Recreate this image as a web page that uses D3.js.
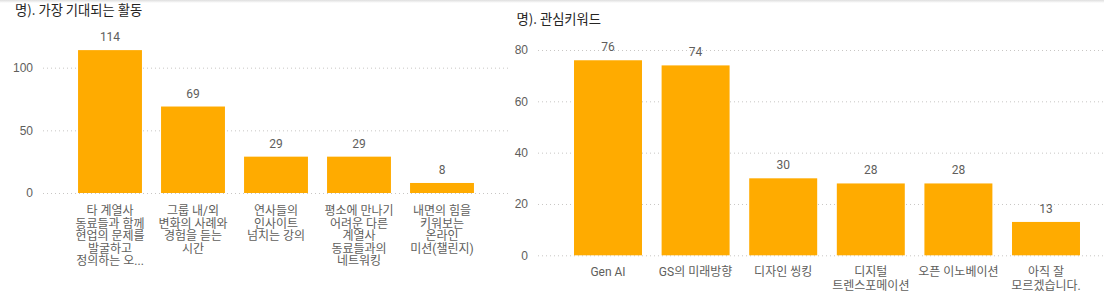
<!DOCTYPE html>
<html>
<head>
<meta charset="utf-8">
<script src="https://cdn.jsdelivr.net/npm/d3@7"></script>
<style>
  body { margin: 0; background: #fff; }
  svg { display: block; font-family: Roboto, "Noto Sans CJK KR", sans-serif; }
  .grid line { stroke: #c8c6c4; stroke-dasharray: 1,3; }
  .grid .domain { display: none; }
  .grid text { fill: #605e5c; font-size: 12px; }
  .title { fill: #252423; font-size: 13.3px; font-family: "Noto Sans CJK KR", sans-serif; }
  .value { fill: #605e5c; font-size: 12px; text-anchor: middle; }
  .cat { fill: #605e5c; font-size: 12px; text-anchor: middle; }
</style>
</head>
<body>
<svg width="1104" height="305"></svg>
<script>
// left chart: 가장 기대되는 활동
const leftTitle = "명). 가장 기대되는 활동";
const leftLabels = [
    ["타 계열사", "동료들과 함께", "현업의 문제를", "발굴하고", "정의하는 오..."],
    ["그룹 내/외", "변화의 사례와", "경험을 듣는", "시간"],
    ["연사들의", "인사이트", "넘치는 강의"],
    ["평소에 만나기", "어려운 다른", "계열사", "동료들과의", "네트워킹"],
    ["내면의 힘을", "키워보는", "온라인", "미션(챌린지)"]
];
const leftValues = [114, 69, 29, 29, 8];
const leftTicks = [0, 50, 100];

// right chart: 관심키워드
const rightTitle = "명). 관심키워드";
const rightLabels = [
    ["Gen AI"],
    ["GS의 미래방향"],
    ["디자인 씽킹"],
    ["디지털", "트렌스포메이션"],
    ["오픈 이노베이션"],
    ["아직 잘", "모르겠습니다."]
];
const rightValues = [76, 74, 30, 28, 28, 13];
const rightTicks = [0, 20, 40, 60, 80];

const barColor = "#ffab00";
const svg = d3.select("svg");

// faint shadow at the very top
const defs = svg.append("defs");
const grad = defs.append("linearGradient").attr("id", "topShade")
    .attr("x1", 0).attr("y1", 0).attr("x2", 0).attr("y2", 1);
grad.append("stop").attr("offset", 0).attr("stop-color", "#dedede");
grad.append("stop").attr("offset", 1).attr("stop-color", "#ffffff");
svg.append("rect").attr("x", 0).attr("y", 0).attr("width", 1104).attr("height", 3)
    .attr("fill", "url(#topShade)");

function drawChart(cfg) {
    const g = svg.append("g");

    const x = d3.scaleBand()
        .domain(d3.range(cfg.values.length))
        .range([cfg.bandLeft, cfg.bandRight])
        .paddingInner(cfg.padInner)
        .paddingOuter(cfg.padInner / 2);

    const y = d3.scaleLinear()
        .domain([0, cfg.yMax])
        .range([cfg.yZero, cfg.yTop]);

    // gridlines + tick labels
    g.append("g")
        .attr("class", "grid")
        .attr("transform", "translate(" + cfg.gridLeft + ",0)")
        .call(d3.axisLeft(y)
            .tickValues(cfg.ticks)
            .tickSize(-(cfg.gridRight - cfg.gridLeft))
            .tickPadding(10));

    // title
    g.append("text")
        .attr("class", "title")
        .attr("x", cfg.titleX)
        .attr("y", cfg.titleY)
        .text(cfg.title);

    // bars
    g.selectAll(".bar")
        .data(cfg.values)
        .enter().append("rect")
        .attr("class", "bar")
        .attr("x", function (d, i) { return x(i); })
        .attr("y", function (d) { return y(d); })
        .attr("width", x.bandwidth())
        .attr("height", function (d) { return y(0) - y(d); })
        .attr("fill", barColor);

    // value labels
    g.selectAll(".value")
        .data(cfg.values)
        .enter().append("text")
        .attr("class", "value")
        .attr("x", function (d, i) { return x(i) + x.bandwidth() / 2; })
        .attr("y", function (d) { return y(d) - 9; })
        .text(function (d) { return d; });

    // category labels (already wrapped as in the picture)
    const cats = g.selectAll(".cat")
        .data(cfg.labels)
        .enter().append("text")
        .attr("class", "cat")
        .attr("transform", function (d, i) {
            return "translate(" + (x(i) + x.bandwidth() / 2) + "," + (y(0) + cfg.labelOffset) + ")";
        });

    cats.selectAll("tspan")
        .data(function (d) { return d; })
        .enter().append("tspan")
        .attr("x", 0)
        .attr("y", function (d, i) { return i * cfg.lineHeight; })
        .text(function (d) { return d; });
}

drawChart({
    title: leftTitle, titleX: 15, titleY: 15,
    labels: leftLabels, values: leftValues, ticks: leftTicks,
    yMax: 120, yZero: 193, yTop: 42.6,
    bandLeft: 68.5, bandRight: 483.5, padInner: 0.23,
    gridLeft: 43, gridRight: 508,
    labelOffset: 22, lineHeight: 12.5
});

drawChart({
    title: rightTitle, titleX: 516.5, titleY: 23.5,
    labels: rightLabels, values: rightValues, ticks: rightTicks,
    yMax: 80, yZero: 255.3, yTop: 50,
    bandLeft: 564.2, bandRight: 1089.8, padInner: 0.224,
    gridLeft: 538, gridRight: 1104,
    labelOffset: 21, lineHeight: 14
});
</script>
</body>
</html>
